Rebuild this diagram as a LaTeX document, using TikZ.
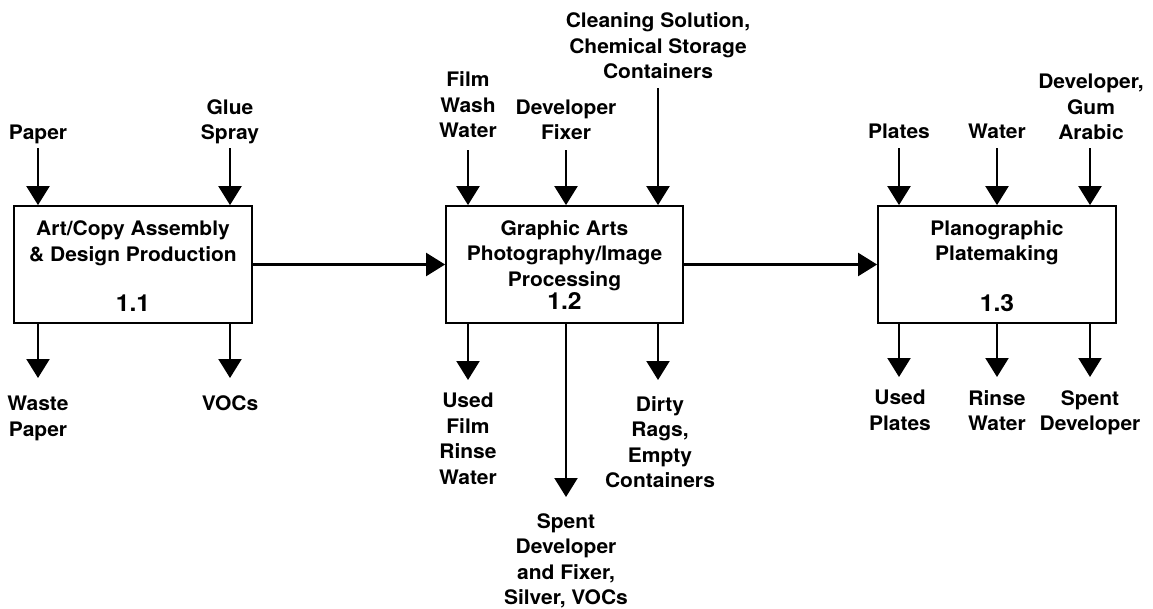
\documentclass[tikz,border=0pt]{standalone}
\usepackage{fontspec}
\setmainfont{TeX Gyre Heros}[FakeStretch=1.05]
\usetikzlibrary{arrows.meta,positioning}
\tikzset{
  procbox/.style={draw, line width=1.8pt, minimum width=238pt, minimum height=117pt, inner sep=0pt},
  flow/.style={line width=2.2pt, -{Triangle[width=23pt,length=19pt]}},
  lbl/.style={align=center, inner sep=0pt, font=\bfseries\fontsize{20}{25.5}\selectfont},
  numlbl/.style={lbl, font=\bfseries\fontsize{23.5}{26}\selectfont},
  inlbl/.style={lbl, anchor=south, text depth=0pt},
  outlbl/.style={lbl, anchor=north},
}

\begin{document}
\begin{tikzpicture}[x=1pt,y=-1pt]
  \useasboundingbox (0,0) rectangle (1153,608);
  % process boxes
  \node[procbox] (art) at (133,264.5) {};
  \node[procbox, minimum width=237pt] (photo) at (564.5,264.5) {};
  \node[procbox] (plate) at (997,264.5) {};
  \node[lbl, anchor=north] (artT) at (133,220.5) {Art/Copy Assembly\\\& Design Production};
  \node[numlbl] (artN) at (133,303) {1.1};
  \node[lbl, anchor=north] (photoT) at (564.5,220) {Graphic Arts\\Photography/Image\\Processing};
  \node[numlbl] (photoN) at (564.5,301) {1.2};
  \node[lbl, anchor=north] (plateT) at (997,220) {Planographic\\Platemaking};
  \node[numlbl] (plateN) at (997,303) {1.3};
  % main flow
  \draw[flow] (art.east) -- (photo.west);
  \draw[flow] (photo.east) -- (plate.west);

  % inputs 1.1
  \coordinate (paperIn) at (38,148);
  \node[inlbl] (paperL) at (38,140) {Paper};
  \draw[flow] (paperIn) -- (paperIn |- art.north);
  \coordinate (glueIn) at (230,148);
  \node[inlbl] (glueL) at (230,140) {Glue\\Spray};
  \draw[flow] (glueIn) -- (glueIn |- art.north);
  % outputs 1.1
  \coordinate (wasteOut) at (38,378);
  \draw[flow] (wasteOut |- art.south) -- (wasteOut);
  \node[outlbl] (wasteL) at (38,396) {Waste\\Paper};
  \coordinate (vocOut) at (230,378);
  \draw[flow] (vocOut |- art.south) -- (vocOut);
  \node[outlbl] (vocL) at (230,395.5) {VOCs};

  % inputs 1.2
  \coordinate (filmIn) at (468,150);
  \node[inlbl] (filmL) at (468,138) {Film\\Wash\\Water};
  \draw[flow] (filmIn) -- (filmIn |- photo.north);
  \coordinate (devIn) at (566,150);
  \node[inlbl] (devL) at (566,140) {Developer\\Fixer};
  \draw[flow] (devIn) -- (devIn |- photo.north);
  \coordinate (cleanIn) at (658,88);
  \node[inlbl] (cleanL) at (658,79) {Cleaning Solution,\\Chemical Storage\\Containers};
  \draw[flow] (cleanIn) -- (cleanIn |- photo.north);
  % outputs 1.2
  \coordinate (rinseOut) at (468,380);
  \draw[flow] (rinseOut |- photo.south) -- (rinseOut);
  \node[outlbl] (rinseL) at (468,393) {Used\\Film\\Rinse\\Water};
  \coordinate (spentOut) at (566,497);
  \draw[flow] (spentOut |- photo.south) -- (spentOut);
  \node[outlbl] (spentL) at (566,513) {Spent\\Developer\\and Fixer,\\Silver, VOCs};
  \coordinate (ragOut) at (658,380);
  \draw[flow] (ragOut |- photo.south) -- (ragOut);
  \node[outlbl] (ragL) at (660,396) {Dirty\\Rags,\\Empty\\Containers};

  % inputs 1.3
  \coordinate (platesIn) at (899,148);
  \node[inlbl] (platesL) at (899,139) {Plates};
  \draw[flow] (platesIn) -- (platesIn |- plate.north);
  \coordinate (waterIn) at (997,148);
  \node[inlbl] (waterL) at (997,139) {Water};
  \draw[flow] (waterIn) -- (waterIn |- plate.north);
  \coordinate (gumIn) at (1090,148);
  \node[inlbl] (gumL) at (1091,140) {Developer,\\Gum\\Arabic};
  \draw[flow] (gumIn) -- (gumIn |- plate.north);
  % outputs 1.3
  \coordinate (usedOut) at (899,377);
  \draw[flow] (usedOut |- plate.south) -- (usedOut);
  \node[outlbl] (usedL) at (900,390) {Used\\Plates};
  \coordinate (pRinseOut) at (997,377);
  \draw[flow] (pRinseOut |- plate.south) -- (pRinseOut);
  \node[outlbl] (pRinseL) at (997,390) {Rinse\\Water};
  \coordinate (pSpentOut) at (1090,377);
  \draw[flow] (pSpentOut |- plate.south) -- (pSpentOut);
  \node[outlbl] (pSpentL) at (1090,390) {Spent\\Developer};
\end{tikzpicture}
\end{document}
